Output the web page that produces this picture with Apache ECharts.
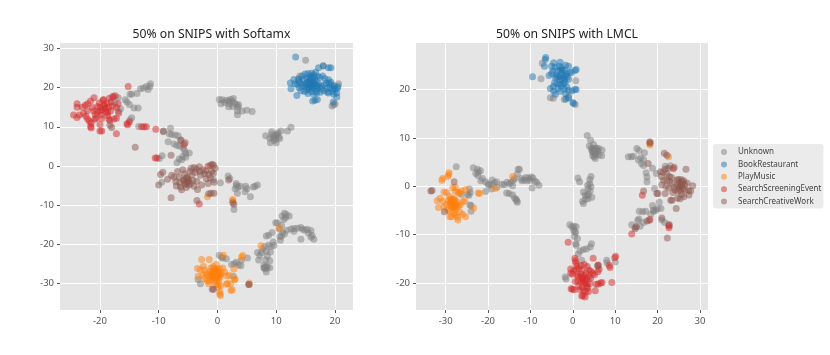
<!DOCTYPE html>
<html>
<head>
<meta charset="utf-8">
<script src="https://cdn.jsdelivr.net/npm/echarts@6/dist/echarts.min.js"></script>
<style>
  html, body { margin: 0; padding: 0; background: #fff; }
  #main { width: 830px; height: 355px; }
</style>
</head>
<body>
<div id="main"></div>
<script>
const names = ['Unknown', 'BookRestaurant', 'PlayMusic', 'SearchScreeningEvent', 'SearchCreativeWork']
const colors = ['#7f7f7f', '#1f77b4', '#ff7f0e', '#d62728', '#8c564b']

const leftTicksX = [-20, -10, 0, 10, 20]
const leftTicksY = [-30, -20, -10, 0, 10, 20, 30]
const rightTicksX = [-30, -20, -10, 0, 10, 20, 30]
const rightTicksY = [-20, -10, 0, 10, 20]

// 左图 Softamx
const softUnknown = [
  [0.3,17],[0.8,16.9],[0.6,15.9],[1.2,16.2],[1.5,16.8],[1.9,16.6],[2.2,17],[2.5,16.5],[2.7,17.2],[2,15.9],[2.9,16],[2.6,15.2],[3.3,15.6],[1.9,15.1],[3.5,15],[3.6,15.6],[3.4,14],[3.4,13.1],[4.2,14],[5,14.2],[5.9,13.9],
  [8.2,7.7],[9.2,8.7],[10,7.8],[10.8,8.9],[11.9,8.9],[12.5,9.9],[9,5.9],[10,5.9],[9.4,7.2],[9.7,7.6],[10.1,8.1],[10.4,7.4],[9.9,6.8],[10.6,7],[9.3,8],[10.3,8.5],[9.6,6.5],[8.9,7.1],
  [-17.8,17.8],[-16.9,17.4],[-17.5,16.2],[-15.7,16.9],[-15.4,16.3],[-15,15.7],[-14.2,14.8],[-13.5,14.8],[-16.5,14.6],[-16.9,14],[-14.9,18.3],[-14.6,18.3],[-13.7,18.5],[-13.1,19.7],[-12.6,19.9],[-12.1,20.3],[-11.8,19.5],[-11.4,21],[-11.5,20.3],[-14.6,12.3],[-14.9,11.7],[-13.4,10.1],
  [-9.2,8.7],[-8.2,8.2],[-8,9.6],[-7.8,8],[-7.2,7.9],[-6.7,7.7],[-8.4,6.2],[-7.4,5.6],[-6.9,5.2],[-6.4,5],[-6.3,6.5],[-5.8,4.6],[-5.6,3.9],[-5.4,3.2],[-4.8,3.3],[-5.9,2.4],[-5.4,2.2],[-6.5,1.8],[-6.9,0.8],[-9.9,1.9],[-9.4,2.6],[-6.1,1.6],
  [1.8,-2.6],[2.1,-3.2],[0.5,-4.3],[3.2,-4.5],[3,-5.8],[3.5,-5.4],[3.9,-5.2],[4.8,-5.2],[5,-5.8],[6.1,-5.4],[6.8,-4.9],[6.4,-5.2],[4.7,-6.6],[5.6,-7.9],[3.4,-7],[2.8,-11.1],[3.2,-5],[-0.7,-3.5],[-9.5,-4.2],
  [11.4,-12.1],[11.7,-12.4],[11,-12.8],[12.2,-12.8],[11.6,-13.2],[11.3,-13.7],[10.2,-14.6],[9.9,-14.5],[10.9,-15.2],[10.5,-16.1],[11.8,-16.4],[12.5,-16.1],[13,-16],[13.6,-15.9],[14.2,-15.7],[14.5,-16.2],[14.9,-16.4],[15.3,-16.2],[15.9,-16.5],[15.5,-17.2],[16.1,-17.8],[16.4,-18.7],[15.9,-18.2],[14.2,-18.7],[13,-16.7],[11.1,-17],[11.4,-17.4],[10.9,-17.9],[10.6,-18.1],[10.7,-19],[9.3,-17],[8.7,-17.7],[8.3,-17.9],
  [9.5,-19.4],[9.6,-20.3],[9.1,-20.6],[8.7,-20.2],[8,-20.6],[7.7,-21.2],[7.5,-22.1],[8.3,-21.8],[9,-22],[6.8,-22.1],[7.2,-22.9],[8.5,-23],[7,-24],[8.2,-24],[8.9,-24.2],[7.9,-25.4],[8.3,-25.7],[8,-26],[8.5,-25.8],[8.2,-26.3],[7.9,-26.1],[8.9,-26],[8.3,-27.1],
  [0.3,-22.8],[0.7,-23.3],[0.9,-23.5],[1.5,-23.7],[2.4,-25.2],[2.9,-25],[3.2,-24.6],[3.6,-25.3],[4,-25.5],[5.1,-23.5],[4.1,-24.1],[-3.3,-29],[-2.9,-30.1],[2.7,-28.2],
  [15,27],[14,23],[18,25.6],[20.6,21],[19.5,15.3],[19.8,15.6],[20,15.9]
]
const softBook = [
  [13.3,27.8],[17.2,25.1],[18,25.5],[18.9,25.1],[19.3,25.1],[12.5,19.7],[12.4,21.2],[13,22.1],[13.5,18],[13.8,22.3],[16.2,16.6],[16.6,16.8],[17,17],[20.3,17.6],[19.7,16.3],[20.5,20.3],[20.4,19.9],
  [14,21.3],[14.4,20.4],[14.6,22.1],[15,21],[15.2,19.4],[15.2,22.4],[15.5,21.5],[15.6,20.6],[15.8,23],[15.9,21.1],[16,22],[16.1,19.9],[16.2,20.4],[16.3,21.5],[16.4,23.3],[16.5,22.4],[16.6,20.8],[16.7,19.1],[16.8,21.7],[16.9,18.7],[17,19.7],[17.2,21],[17.4,22.6],[17.5,18.8],[17.6,20.4],[17.9,23],[18.1,19.2],[18.2,20.6],[18.5,21.2],[18.6,19.8],[18.9,18.6],[19,21.1],[19.2,19.9],[19.4,20.7],[19.6,19],[19.8,18.3],[14.8,19],[15.4,18.5],[13.9,20],[13.2,21],[14.2,19.2],[15.8,21.8],[16,20.8],[16.3,20],[15.5,20.1],[14.7,20.8],
  [13.6,20.8],[13.8,21.8],[14.4,23],[14.9,23.5],[15.4,23.6],[16,23.7],[17,22.9],[18.3,22.3],[16.7,23.9],[18.9,22],[19.3,21.4],[19.9,20.4],[20,19.5],[20.3,18.6],[15,20.2],[15.6,19.6],[16,19],[16.4,18.3],[17.7,19.8],[18.7,18.9],[17.1,20.2],[16.5,21],[15.9,20.5],[15.3,21.2],[15.7,22.4],[16.2,22.8],[16.9,20.4],[19.7,19.8]
]
const softPlay = [
  [-2.7,-23.9],[-1.4,-23.9],[1,-22.8],[4.3,-22.9],[4.1,-23.3],[2.8,-26.3],[-3.4,-26.2],[-2.9,-26.5],[-2.4,-25.6],[-2.2,-26.6],[-1.9,-27.5],[-2.5,-27.9],[-3.3,-28.2],[-2.2,-28.8],[-1.8,-29.3],[-1.5,-30.1],[-1.1,-26.1],[-0.7,-25.7],[-0.3,-26.6],[-0.2,-25.2],[0.3,-26.2],[0.9,-26.1],[1.2,-27.1],[0.6,-27.5],[0.2,-27.9],[-0.1,-27],[-0.5,-27.5],[-0.6,-28],[-0.9,-27.2],[-0.8,-28.6],[-0.3,-28.2],[0,-28.7],[0.4,-28.5],[0.2,-29.5],[-0.2,-29.1],[-0.3,-30.2],[0.5,-30.6],[0.1,-31],[0.4,-32.1],[0.4,-32.7],[0.5,-33.1],[1.5,-30.2],[1.7,-30],[2.2,-30.1],[1.6,-28.1],[2,-27.9],[2.9,-29.1],[3,-28.9],[2.3,-31.8],[2.5,-31.6],[10.5,-15.8],[7.4,-20.4],[5.4,-29.9],[-1.7,-7.9],[2.6,-8.6],[2.6,-8.9],
  [-0.7,-27.8],[-0.4,-27.9],[-0.1,-28.1],[-0.5,-27.2],[-0.6,-27.6],[-0.3,-27.4],[-0.8,-27.9],[-0.2,-27.7],[-0.4,-28.4],[-0.9,-28.2],[-0.6,-26.8],[-0.1,-26.4],[-0.5,-26.2],[0.1,-27.4],[0.5,-27.9],[-1.1,-27.6],[-1.3,-28.2],[-1,-29],[-0.5,-29.5],[0.1,-30.3],[-1.3,-26.9],[-1.7,-27.9],[-1.4,-29.4],[0.2,-26.9]
]
const softScreen = [
  [-15.2,20.3],[-15.4,10.8],[-15,11.2],[-15.3,10.5],[-12.9,10],[-12.5,10],[-12.1,10],[-10.5,9.4],[-5.7,5.5],[-10.6,2],[-10.3,2],[-17.2,8.2],[-20,8.9],[-19.7,8.9],[-23.9,15.9],[-23.9,15],[-1.6,-0.1],[-3.1,-9.7],
  [-24.5,13],[-23.9,12.4],[-23.5,13],[-22.8,13.4],[-22.4,12.7],[-22.1,12],[-22.1,14.1],[-23,15],[-22.5,15.5],[-22.1,15.9],[-21.6,16.6],[-21.3,14.9],[-21,17.4],[-21,14],[-20.8,13.2],[-20.7,12.2],[-20.4,15.2],[-20.1,16.1],[-20,15],[-19.9,14],[-19.8,13],[-19.7,12.1],[-19.5,16.7],[-19.4,17],[-19.3,15.7],[-19.1,14.7],[-19,13.7],[-18.8,16],[-18.7,12.9],[-18.5,15],[-18.4,17.3],[-18.2,14],[-18.1,16.4],[-17.9,15.3],[-17.8,17.6],[-17.4,17.9],[-17.2,14.9],[-17.2,12.2],[-17.6,12],[-18.3,11.6],[-18.5,12],[-21.5,10.9],[-21.8,11.4],[-21.6,10.1],[-21.5,9.7],[-20,10.6],[-18.7,13.7],[-19.6,14.4],[-20.4,13.7],[-19.2,15.2],[-20.9,11.9],[-16.9,15.9],[-16.8,13.5]
]
const softCreative = [
  [-14,4.8],[-18.3,10.4],[-18,9.8],[-9.2,8.9],[-7.9,2.7],[-9.7,-2.2],[-9.3,-1.6],[-5.5,5.9],[-6.2,6.6],[-0.7,0.2],[-0.9,0.4],[-1.2,0.2],[-0.4,-0.6],[-7.9,-8.1],[-3.5,-8.8],[-1.5,-7.1],[-1.1,-7],[-0.6,-7],[1.9,-3.6],[2.6,-9.4],[2.8,-9.8],[5.3,-30.3],[5.4,-30.3],[-0.7,-31.5],[-0.9,-31.5],[-10,-4.9],
  [-8.5,-3.4],[-7.8,-2.4],[-7.4,-2.8],[-7.1,-4],[-7,-5.1],[-6.8,-1.4],[-6.5,-2.9],[-6.4,-4.3],[-6.3,-5.4],[-6.1,-6.1],[-5.9,-1],[-5.8,-3.6],[-5.6,-2],[-5.5,-4.7],[-5.3,-5.5],[-5.2,-2.9],[-5.1,-4.1],[-5,-3.3],[-4.9,-4.9],[-4.7,-1.4],[-4.5,-0.6],[-4.3,-2.3],[-4.2,-3.7],[-4,-5.2],[-4,-0.4],[-3.8,-1.6],[-3.6,-0.8],[-3.5,-3.9],[-3.4,-6],[-3.1,-0.2],[-3,-1.4],[-2.9,-2.4],[-2.7,-4.9],[-2.5,-1],[-2.2,-2],[-2,-1.3],[-1.9,-3.3],[-1.6,-4.5],[-1.5,-2.1],[-1.2,-3.1],[-1,-1.4],[-0.7,-1.9],[-0.6,-4.2],[-5.4,-4.4],[-5.7,-3.7],[-4.9,-3.8],[-5.3,-3.2],[-4.6,-4.5]
]

// 右图 LMCL
const lmclUnknown = [
  [-7.2,25.4],[-7.5,22.2],[0.7,21.8],[-5.3,18.3],[0.6,16.9],[-1,18.5],[-4.6,18.2],[-2,17.9],
  [3.4,10.5],[4.2,9.5],[3.9,8.3],[4.4,7.9],[4.9,8.6],[5.6,7.9],[6.1,7.8],[6.9,7.5],[4.6,7.1],[5,7.5],[5.3,7],[5.7,6.9],[6.2,6.5],[6.8,6.3],[4.7,6.3],[5.3,5.7],[4.9,7],[5.1,6.6],[4.8,7.7],[5.2,7.8],[5.5,7.3],[5,6.1],[5.4,6.5],[4.5,7.5],[5.8,7.4],
  [13.1,6.1],[13.8,6.1],[14.3,6.2],[15.1,7.8],[15.6,7.4],[16.9,6.9],[15.5,5.4],[16,5.9],[16.7,5.5],[16.2,4.7],[16.7,4.3],[18.8,3.7],[17.3,2.8],[17.5,1.9],[19.7,2.6],[19.3,-0.5],[17.5,0.9],[23,4.2],[21.8,4.1],
  [-27.5,4],[-23.5,3.8],[-22.5,3.5],[-22.9,2.6],[-22.4,2.2],[-21.8,3.2],[-22.3,2.9],[-21.3,1.6],[-21.7,1.1],[-20.6,0.9],[-20,0.5],[-19.8,0.2],[-19.2,0.3],[-19,1.3],[-18.5,0.7],[-18,0.9],[-17.9,-0.2],[-16.7,0.4],[-16.2,0.3],[-15.5,0.8],[-15,0.5],[-14.5,0.8],[-14.2,0.1],[-14,1.3],[-13.7,1.6],[-13.1,2.5],[-12.9,3.5],[-12.6,3.5],[-12.2,1.6],[-12,1.1],[-11.5,1.3],[-11.1,1.8],[-10.8,1.1],[-10.5,1.7],[-10.1,1.2],[-9.8,1.9],[-9.4,1.7],[-9,1],[-8.5,0.8],[-8,0.2],[-9.6,-0.4],[-15.6,-1.4],[-15,-1.5],[-14.2,-1.8],[-13.7,-2.5],[-13.4,-2.7],[-13.2,-3],[-13.1,-3.3],[-20.6,-1.1],[-19.2,-0.6],
  [-24.4,-0.6],[-24.2,-1.3],[-24.8,-1.7],[-24.5,-1.9],[-26.3,-1.7],[-24,-4],[-24.3,-3.9],[-24,-5.2],
  [1.2,1.7],[1.6,0.9],[4.3,2],[4,1.4],[4,0.5],[4.3,-0.1],[3.6,-0.6],[4.1,-1],[3.7,-1.7],[3.3,-2],[2.9,-1.8],[3.6,-2.6],[3,-2.7],[2.3,-3.1],[2.5,-3.6],[4.5,-2.3],[2.5,-1.2],[3.5,0.2],
  [-0.7,-8],[-0.2,-8.4],[0.3,-8.3],[0.8,-8.4],[0.2,-9],[0.4,-9.4],[0.7,-9.6],[0.4,-10.4],[1.1,-10.8],[0.7,-11.9],[0.8,-12.2],[4.4,-11.9],[4.1,-12.6],[3.2,-13],[2.5,-13.1],[1.7,-13.4],[1.3,-14],[2.1,-15.3],[8,-15.3],[8.1,-15.9],[10,-15.7],[-1.8,-18.8],[-1.6,-19.2],[5.9,-16.5],
  [13.9,-8],[14.7,-8.5],[15.3,-7.1],[15.6,-6.8],[15.7,-5.2],[16.5,-5.3],[17.2,-5.2],[18,-7.1],[18.8,-4],[19.1,-5.2],[19.6,-5],[20,-4.6],[20.4,-3.3],[20.8,-4.6],[18.4,-5.8],[19,-4.9],[21,-7],[21.7,-7.5],[22.6,-7.9],[22.8,-8],[15.9,-8.3],[16.7,-7.5]
]
const lmclBook = [
  [-6.4,26.6],[-6.7,24.8],[-9.5,22.6],[-6.5,26.2],
  [-5,24.8],[-4.5,25.5],[-4.2,24.6],[-3,25.6],[-3.2,24.8],[-2.6,24.5],[-1.7,25],[-1,24.8],[-5.6,22.9],[-5,23.3],[-4.7,23.8],[-4.1,22.4],[-4.3,21.4],[-3.9,23],[-3.5,23.8],[-3.2,22.7],[-3,22],[-2.9,24],[-2.6,23.2],[-2.5,24],[-2.2,22.7],[-2,23.9],[-1.8,22.9],[-1.5,23.3],[-1.3,22.6],[-1,22.1],[-0.8,23.5],[-0.3,23.5],[0.8,24.1],[0.5,23.9],[-5.3,20.2],[-4.5,19.6],[-4.6,20.6],[-4.1,19],[-3.7,21.2],[-3.5,20.2],[-3.1,21.1],[-2.9,19.6],[-2.7,20.7],[-2.2,21.2],[-2,20.1],[-1.7,19.1],[-1.4,20.5],[-1,19.8],[-0.2,19.7],[0.8,20],[0.5,20],[-1.6,18],[-1,18.3],[0,17.3],[0.2,17.1],[-2,21.9],[-2.6,22.2],[-1.8,21.5],[-3.6,22.6]
]
const lmclPlay = [
  [-29.2,2.8],[-29.3,2.4],[-29.5,2],[-30.7,1.6],[-30.9,1.2],[-14.2,2],[-18.3,-0.5],[-22,-1.5],[-22.3,-1.4],[-23.4,-4.5],[18.2,9],[18.2,8.5],[22.6,6.1],
  [-30.4,-1.2],[-29.8,-1.3],[-28.3,-0.3],[-27.7,-0.2],[-27.7,-1.1],[-27,-1.3],[-26.7,-1.4],[-26.3,-1],[-25.3,-0.7],[-32,-3],[-31.3,-2.5],[-30.7,-3.1],[-31.7,-4.4],[-30.4,-4.3],[-29.8,-3.8],[-29.4,-3],[-29.2,-2.1],[-29,-3.4],[-28.8,-2.6],[-28.6,-3.8],[-28.5,-3.1],[-28.3,-4.3],[-28.1,-3.6],[-27.9,-2.6],[-27.8,-4.9],[-27.6,-4],[-27.3,-3.2],[-27,-4.2],[-26.6,-3.9],[-25.9,-3.2],[-25.5,-3],[-29.5,-4.9],[-29.1,-5.2],[-29,-6.3],[-28.6,-6.3],[-28,-5.5],[-27.7,-6],[-27.2,-6.4],[-27.1,-7],[-26.6,-5.4],[-26,-5.8],[-25.3,-6.3],
  [-28.4,-4.4],[-28,-4.1],[-28.7,-3.3],[-27.8,-3.4],[-28.3,-3.5],[-28.6,-2.9],[-28,-2.9],[-28.2,-3.9],[-27.6,-4.5],[-28.9,-4],[-28.4,-2.6],[-27.4,-3.9]
]
const lmclScreen = [
  [23.7,3.6],[16.4,-1.9],[18.2,-6.9],[22.7,-8.6],[22.7,-8.2],[13.9,-9.9],[-1.1,-11.6],
  [0.5,-14.9],[0.6,-15.4],[0.7,-15.9],[4.8,-14.9],[9.9,-14.8],[10.1,-14.5],[8.6,-16.4],[8.8,-16.8],[6,-16.3],[-0.5,-17.1],[0.2,-17.5],[-0.5,-18],[-0.1,-18.2],[0.8,-17.2],[1,-16.5],[1.5,-17],[1.9,-16.4],[2.2,-17.5],[2.7,-16.2],[3.4,-16.6],[3.8,-17.4],[4.3,-17.6],[4.7,-18],[5.1,-18.3],[5.9,-17.7],[6.2,-17.2],[1,-18.3],[1.3,-18.6],[1.9,-18.2],[2.1,-18.9],[2.7,-18.5],[3.1,-18],[3.3,-19],[3.8,-18.7],[4.2,-19.1],[0.6,-19.7],[1.2,-19.6],[1.9,-19.8],[2.4,-19.6],[2.8,-20],[3.4,-20.2],[4,-20.1],[1.4,-20.7],[2.2,-20.9],[3.2,-20.7],[3.5,-21],[1.7,-21.4],[2.6,-21.6],[3.1,-21.9],[3.7,-21.8],[-0.4,-21.2],[-0.1,-21.3],[0.3,-21.4],[5.3,-21.6],[5.5,-20.3],[6,-20.2],[6.6,-20],[6.9,-19.9],[9.2,-19.9],[2.1,-22.7],[2.4,-22.6],[2.9,-22.9],[2.9,-19.5],[2.3,-19.1]
]
const lmclCreative = [
  [-28,0.9],[-33.5,-1],[-33.2,-0.9],[-30.3,-5.3],[18.2,9.2],[18.2,8.9],[21.6,6.8],[22.2,6.4],[17.8,4.7],[26.7,3.5],[24.4,-4.6],[23.1,-2.9],[23.4,-2.9],[21,-6.6],[22.3,-10.7],[16.7,-1],[19.8,-1.5],[20.1,-1.5],[14.7,-8.8],[15,-8.4],[17.5,-7.2],[5.9,-16.4],[23.9,3.9],
  [20.7,3],[20.9,2],[21.3,2.9],[21.8,3.5],[22.2,2.5],[22.5,3.7],[22.8,2],[21.4,1.2],[22.2,1.2],[22.9,1],[23.3,1.8],[23.5,0.5],[23.9,-0.2],[21,0.3],[22,0],[22.6,-0.4],[24.6,1.3],[24.9,1.4],[25.2,0.8],[25.6,1.4],[25.9,0.9],[26.4,0.3],[26.2,1.1],[27,0.6],[28.3,0.1],[24.7,0.2],[25.2,0],[25.6,0],[26,-0.5],[26.5,-0.8],[27.3,-0.9],[24.1,-0.8],[24.8,-1.1],[25.4,-0.9],[25.7,-1.7],[27.8,-1],[27.4,-1.8],[24.7,-2.5],[25.3,-2.6],[26.2,-2.2],[23.6,-1.3],[21.8,-1.5],[25.1,-0.4],[25.6,0.4]
]

const softSeries = [softUnknown, softBook, softPlay, softScreen, softCreative]
const lmclSeries = [lmclUnknown, lmclBook, lmclPlay, lmclScreen, lmclCreative]

const labelColor = '#555555'
const fontName = 'Noto Sans'

function makeAxis(gridIndex, min, max, ticks) {
  return {
    type: 'value',
    gridIndex,
    min,
    max,
    axisLine: { show: false, onZero: false },
    axisTick: { show: true, length: 3, customValues: ticks, lineStyle: { color: labelColor, width: 1 } },
    axisLabel: { customValues: ticks, color: labelColor, fontFamily: fontName, fontSize: 9.5, margin: 6 },
    splitLine: { show: true, lineStyle: { color: '#ffffff', width: 1 } }
  }
}

function makeSeries(list, axisIndex) {
  return list.map((data, i) => ({
    name: names[i],
    type: 'scatter',
    xAxisIndex: axisIndex,
    yAxisIndex: axisIndex,
    symbolSize: 7,
    data,
    itemStyle: { color: colors[i], opacity: 0.5 },
    silent: true,
    animation: false
  }))
}

const chart = echarts.init(document.getElementById('main'), null, { renderer: 'canvas' })
chart.setOption({
  animation: false,
  backgroundColor: '#ffffff',
  title: [
    { text: '50% on SNIPS with Softamx', left: 206.5, top: 24, textAlign: 'center',
      textStyle: { fontFamily: fontName, fontSize: 12.2, fontWeight: 'normal', color: '#222222' } },
    { text: '50% on SNIPS with LMCL', left: 562, top: 24, textAlign: 'center',
      textStyle: { fontFamily: fontName, fontSize: 12.2, fontWeight: 'normal', color: '#222222' } }
  ],
  grid: [
    { left: 60, top: 43, width: 293, height: 267, show: true, backgroundColor: '#e5e5e5', borderWidth: 0 },
    { left: 416, top: 43, width: 292, height: 267, show: true, backgroundColor: '#e5e5e5', borderWidth: 0 }
  ],
  xAxis: [makeAxis(0, -26.8, 23.06, leftTicksX), makeAxis(1, -37, 31.9, rightTicksX)],
  yAxis: [makeAxis(0, -36.8, 31.4, leftTicksY), makeAxis(1, -25.6, 29.6, rightTicksY)],
  legend: {
    orient: 'vertical',
    left: 713,
    top: 144,
    padding: [3, 2, 2, 8],
    data: names,
    icon: 'circle',
    itemWidth: 6,
    itemHeight: 6,
    itemGap: 2.4,
    backgroundColor: '#ebebeb',
    borderRadius: 3,
    textStyle: { fontFamily: fontName, fontSize: 8, color: '#444444', padding: [0, 0, 0, 6], lineHeight: 10 }
  },
  series: [...makeSeries(softSeries, 0), ...makeSeries(lmclSeries, 1)]
})
</script>
</body>
</html>
